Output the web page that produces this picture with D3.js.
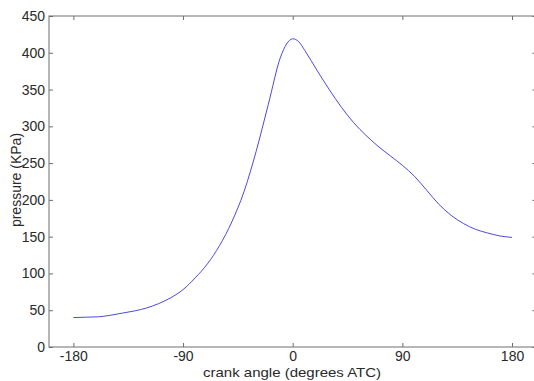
<!DOCTYPE html>
<html>
<head>
<meta charset="utf-8">
<script src="https://cdn.jsdelivr.net/npm/d3@7"></script>
<style>
  html, body { margin: 0; padding: 0; background: #fff; }
  svg { display: block; }
  text { font-family: "Liberation Sans", Arial, sans-serif; fill: #2a2a2a; }
</style>
</head>
<body>
<svg id="chart" width="534" height="381"></svg>
<script>
// Data
const angles = [-180,-170,-160,-150,-140,-130,-120,-110,-100,-90,-80,-70,-60,-50,-40,-30,-20,-10,-5,0,5,10,20,30,40,50,60,70,80,90,100,110,120,130,140,150,160,170,180];
const pressure = [40,40.5,41,43,46,49,53,59,67,78,94,113,138,170,211,266,330,394,412,419,415,403,376,350,326,305,288,273,260,247,232,213,194,179,168,160,155,151,149];
const xTicks = [-180,-90,0,90,180];
const yTicks = [0,50,100,150,200,250,300,350,400,450];
const xLabel = "crank angle (degrees ATC)";
const yLabel = "pressure (KPa)";

const svg = d3.select("#chart");
const mLeft = 49, mRight = 536.4, mTop = 16, mBottom = 347;
const x = d3.scaleLinear().domain([-200, 200]).range([mLeft, mRight]);
const y = d3.scaleLinear().domain([0, 450]).range([mBottom, mTop]);

const axisColor = "#6e6e6e";
const tickLen = 4;

function styleAxis(g) {
  g.select(".domain").remove();
  g.selectAll(".tick line").attr("stroke", axisColor).attr("stroke-width", 1);
  g.selectAll(".tick text").style("font-size", "14px").attr("fill", "#2a2a2a");
}

// bottom axis
svg.append("g").attr("transform", `translate(0,${mBottom})`)
  .call(d3.axisBottom(x).tickValues(xTicks).tickSizeInner(-tickLen).tickSizeOuter(0).tickPadding(4).tickFormat(d => String(d)))
  .call(styleAxis)
  .call(g => g.selectAll(".tick text").attr("dy", null).attr("y", 14));
// top axis
svg.append("g").attr("transform", `translate(0,${mTop})`)
  .call(d3.axisTop(x).tickValues(xTicks).tickSizeInner(-tickLen).tickSizeOuter(0).tickFormat(""))
  .call(styleAxis);
// left axis
svg.append("g").attr("transform", `translate(${mLeft},0)`)
  .call(d3.axisLeft(y).tickValues(yTicks).tickSizeInner(-tickLen).tickSizeOuter(0).tickPadding(4).tickFormat(d => String(d)))
  .call(styleAxis)
  .call(g => g.selectAll(".tick text").attr("x", -4));
// right axis
svg.append("g").attr("transform", `translate(${mRight},0)`)
  .call(d3.axisRight(y).tickValues(yTicks).tickSizeInner(-tickLen).tickSizeOuter(0).tickFormat(""))
  .call(styleAxis);

// box
svg.append("rect")
  .attr("x", mLeft).attr("y", mTop)
  .attr("width", mRight - mLeft).attr("height", mBottom - mTop)
  .attr("fill", "none").attr("stroke", axisColor).attr("stroke-width", 1);

// line
const line = d3.line()
  .x((d, i) => x(angles[i]))
  .y(d => y(d))
  .curve(d3.curveMonotoneX);
svg.append("path")
  .datum(pressure)
  .attr("d", line)
  .attr("fill", "none")
  .attr("stroke", "#4a4ae0")
  .attr("stroke-width", 1);

// axis labels
svg.append("text")
  .attr("x", 203)
  .attr("y", 377)
  .attr("textLength", 178)
  .attr("lengthAdjust", "spacingAndGlyphs")
  .style("font-size", "13px")
  .text(xLabel);

svg.append("text")
  .attr("transform", `translate(21,${180}) rotate(-90)`)
  .attr("text-anchor", "middle")
  .style("font-size", "14px")
  .text(yLabel);
</script>
</body>
</html>
